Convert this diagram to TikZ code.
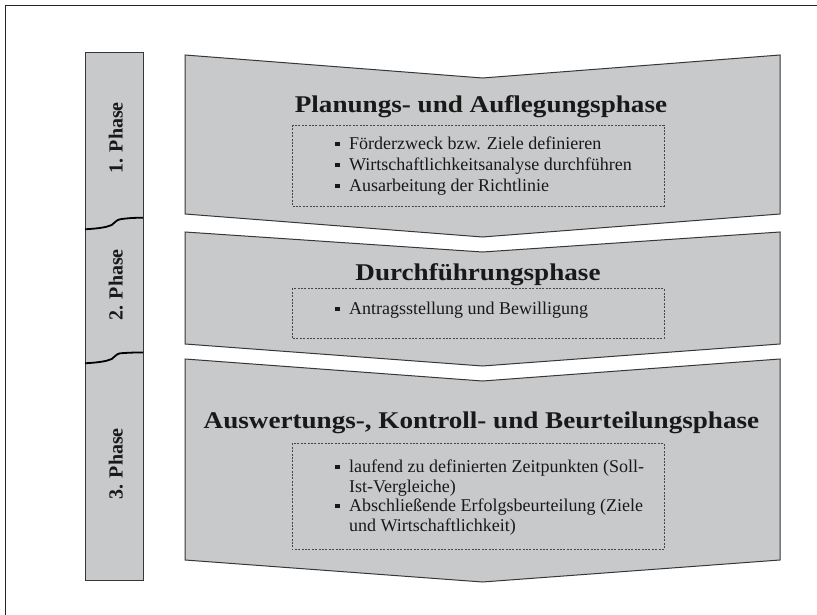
\documentclass[tikz,border=0pt]{standalone}
\usepackage{fontspec}
\setmainfont{Liberation Serif}
\definecolor{chevfill}{RGB}{200,201,203}
\definecolor{chevline}{RGB}{55,55,55}
\definecolor{boxline}{RGB}{70,70,70}
\newcommand{\bulsq}{\makebox[14pt][l]{\rule[3.3pt]{4.3pt}{4.3pt}}}
\tikzset{
  chevron/.style={fill=chevfill, draw=chevline, line width=1pt, line join=miter},
  phasebar/.style={fill=chevfill, draw=chevline, line width=1pt},
  wave/.style={draw=black, line width=1.8pt},
  dashbox/.style={draw=boxline, line width=0.8pt, dash pattern=on 2pt off 1.4pt},
  frameline/.style={draw=black!85, line width=1pt},
  titletext/.style={inner sep=0pt, anchor=base, font=\bfseries\fontsize{24}{28}\selectfont, text=black!90},
  itemtext/.style={inner sep=0pt, anchor=base west, font=\fontsize{18}{21}\selectfont, text=black!90},
  phasetext/.style={inner sep=0pt, anchor=base, rotate=90, font=\bfseries\fontsize{20}{24}\selectfont, text=black!90}
}
\begin{document}
\begin{tikzpicture}[x=1pt,y=-1pt]
\useasboundingbox (0,0) rectangle (817,615);
% frame (top and left only)
\coordinate (fr0) at (5,615);
\coordinate (fr1) at (5,6);
\coordinate (fr2) at (817,6);
\draw[frameline] (fr0) -- (fr1) -- (fr2);

% left phase bar
\draw[phasebar] (85,53) rectangle (143,580);
\draw[wave] (85,229.3) .. controls (98,228.5) and (106,227.5) .. (111.7,225)
  .. controls (115,223) and (116,220) .. (120,219.3) .. controls (128,218) and (136,217.7) .. (143,217.7);
\draw[wave] (85,363.3) .. controls (98,362.5) and (106,361.5) .. (111.7,359)
  .. controls (115,357) and (116,354) .. (120,353.3) .. controls (128,352.7) and (136,352.4) .. (143,352.4);
\node[phasetext] (ph1) at (122.7,138) {1. Phase};
\node[phasetext] (ph2) at (122.7,285) {2. Phase};
\node[phasetext] (ph3) at (122.7,464) {3. Phase};

% chevrons
\draw[chevron] (185,55) -- (482.5,78) -- (780,55) -- (780,214) -- (482.5,237) -- (185,214) -- cycle;
\draw[chevron] (185,232) -- (482.5,252) -- (780,232) -- (780,344) -- (482.5,366) -- (185,344) -- cycle;
\draw[chevron] (185,359) -- (482.5,381) -- (780,359) -- (780,560) -- (482.5,582) -- (185,560) -- cycle;

% titles
\node[titletext] (t1) at (481,112.7) {\scalebox{1.13}[1]{Planungs- und Auflegungsphase}};
\node[titletext] (t2) at (478,280) {\scalebox{1.13}[1]{Durchführungsphase}};
\node[titletext] (t3) at (481.5,428.3) {\scalebox{1.13}[1]{Auswertungs-, Kontroll- und Beurteilungsphase}};

% dashed boxes
\draw[dashbox] (292,125) rectangle (664,206);
\draw[dashbox] (292,288.3) rectangle (664,338.3);
\draw[dashbox] (292,443.3) rectangle (664,549.3);

% box 1 items
\node[itemtext] (a1) at (335,149.3) {\bulsq Förderzweck bzw. Ziele definieren};
\node[itemtext] (a2) at (335,170.5) {\bulsq Wirtschaftlichkeitsanalyse durchführen};
\node[itemtext] (a3) at (335,191.7) {\bulsq Ausarbeitung der Richtlinie};

% box 2 item
\node[itemtext] (b1) at (335,314.3) {\bulsq Antragsstellung und Bewilligung};

% box 3 items
\node[itemtext] (c1) at (335,472.5) {\bulsq laufend zu definierten Zeitpunkten (Soll-};
\node[itemtext] (c2) at (349,492) {Ist-Vergleiche)};
\node[itemtext] (c3) at (335,511.5) {\bulsq Abschließende Erfolgsbeurteilung (Ziele};
\node[itemtext] (c4) at (349,531) {und Wirtschaftlichkeit)};
\end{tikzpicture}
\end{document}
